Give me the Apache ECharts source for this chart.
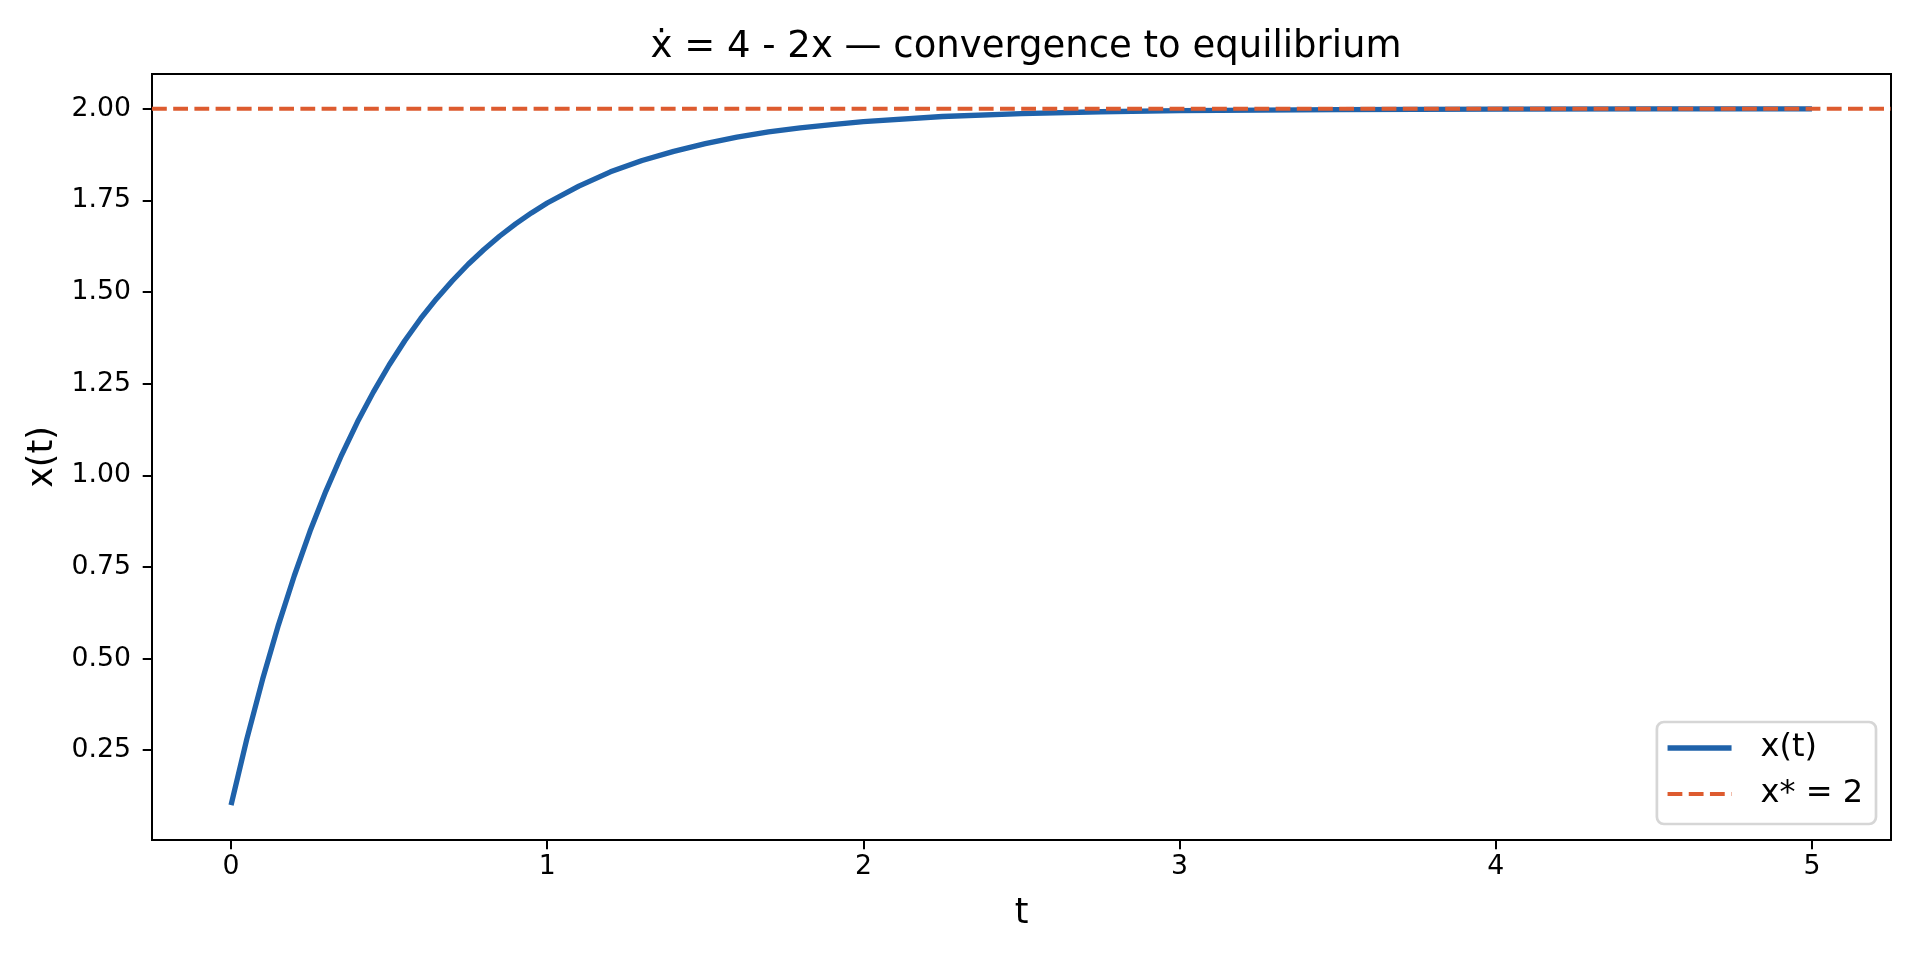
<!DOCTYPE html>
<html>
<head>
<meta charset="utf-8">
<title>x' = 4 - 2x convergence</title>
<script src="https://cdn.jsdelivr.net/npm/echarts@6/dist/echarts.min.js"></script>
<style>
    html, body { margin: 0; padding: 0; background: #fff; }
    #chart { width: 1920px; height: 960px; }
</style>
</head>
<body>
<div id="chart"></div>
<script>
// Values
const tValues = [
    0, 0.05, 0.1, 0.15, 0.2, 0.25, 0.3, 0.35, 0.4, 0.45,
    0.5, 0.55, 0.6, 0.65, 0.7, 0.75, 0.8, 0.85, 0.9, 0.95,
    1.0, 1.1, 1.2, 1.3, 1.4, 1.5, 1.6, 1.7, 1.8, 1.9,
    2.0, 2.25, 2.5, 2.75, 3.0, 3.5, 4.0, 4.5, 5.0
];
const xValues = [
    0.100, 0.281, 0.444, 0.592, 0.726, 0.848, 0.957, 1.056, 1.146, 1.227,
    1.301, 1.368, 1.428, 1.482, 1.531, 1.576, 1.616, 1.653, 1.686, 1.716,
    1.743, 1.789, 1.828, 1.859, 1.884, 1.905, 1.923, 1.937, 1.948, 1.957,
    1.965, 1.979, 1.987, 1.992, 1.995, 1.998, 1.999, 2.000, 2.000
];

// equilibrium line spans the whole x range
const equilibrium = 2;
const xRange = [-0.25, 5.25];
const yRange = [0.005, 2.095];

const xTicks = [0, 1, 2, 3, 4, 5];
const yTicks = [0.25, 0.5, 0.75, 1.0, 1.25, 1.5, 1.75, 2.0];

const FONT = 'DejaVu Sans';
const BLUE = '#1f62aa';
const ORANGE = '#dd5b2f';

const chart = echarts.init(document.getElementById('chart'));

// hide the legend symbol, keep only the line sample
const hiddenSymbol = { color: 'transparent', borderWidth: 0, opacity: 0 };

chart.setOption({
    animation: false,
    backgroundColor: '#fff',
    title: {
        text: 'ẋ = 4 - 2x — convergence to equilibrium',
        left: 1021,
        top: 24,
        textAlign: 'center',
        textStyle: { fontFamily: FONT, fontSize: 37, fontWeight: 'normal', color: '#000' }
    },
    grid: {
        left: 152,
        right: 29,
        top: 74,
        bottom: 120,
        outerBoundsMode: 'none',
        show: true,
        borderColor: '#000',
        borderWidth: 2,
        backgroundColor: 'transparent'
    },
    legend: {
        orient: 'vertical',
        right: 44,
        bottom: 136,
        itemWidth: 64,
        itemHeight: 14,
        itemGap: 10,
        padding: [8, 13, 12, 8],
        backgroundColor: '#fff',
        borderColor: '#d6d6d6',
        borderWidth: 2.7,
        borderRadius: 7,
        itemStyle: hiddenSymbol,
        textStyle: {
            fontFamily: FONT,
            fontSize: 32,
            lineHeight: 36,
            color: '#000',
            padding: [0, 0, 0, 24]
        },
        data: [
            { name: 'x(t)', itemStyle: hiddenSymbol, lineStyle: { width: 5.3, color: BLUE } },
            { name: 'x* = 2', itemStyle: hiddenSymbol, lineStyle: { width: 4, color: ORANGE, type: [14.8, 6.4] } }
        ]
    },
    xAxis: {
        type: 'value',
        min: xRange[0],
        max: xRange[1],
        name: 't',
        nameLocation: 'middle',
        nameGap: 56,
        nameTextStyle: { fontFamily: FONT, fontSize: 35, color: '#000' },
        axisLine: { onZero: false, lineStyle: { color: '#000', width: 2 } },
        axisTick: {
            show: true,
            length: 9.3,
            lineStyle: { color: '#000', width: 2 },
            customValues: xTicks
        },
        axisLabel: {
            fontFamily: FONT,
            fontSize: 26.7,
            color: '#000',
            margin: 14,
            customValues: xTicks,
            formatter: v => String(v)
        },
        splitLine: { show: false }
    },
    yAxis: {
        type: 'value',
        min: yRange[0],
        max: yRange[1],
        name: 'x(t)',
        nameLocation: 'middle',
        nameRotate: 90,
        nameGap: 85,
        nameTextStyle: { fontFamily: FONT, fontSize: 35, color: '#000' },
        axisLine: { show: true, onZero: false, lineStyle: { color: '#000', width: 2 } },
        axisTick: {
            show: true,
            length: 9.3,
            lineStyle: { color: '#000', width: 2 },
            customValues: yTicks
        },
        axisLabel: {
            fontFamily: FONT,
            fontSize: 26.7,
            color: '#000',
            margin: 21,
            customValues: yTicks,
            formatter: v => v.toFixed(2)
        },
        splitLine: { show: false }
    },
    series: [
        {
            name: 'x(t)',
            type: 'line',
            data: tValues.map((t, i) => [t, xValues[i]]),
            symbol: 'none',
            smooth: false,
            lineStyle: { color: BLUE, width: 5.3 },
            itemStyle: { color: BLUE },
            z: 2
        },
        {
            name: 'x* = 2',
            type: 'line',
            data: xRange.map(t => [t, equilibrium]),
            symbol: 'none',
            lineStyle: { color: ORANGE, width: 4, type: [14.8, 6.4] },
            itemStyle: { color: ORANGE },
            z: 3
        }
    ]
});
</script>
</body>
</html>
